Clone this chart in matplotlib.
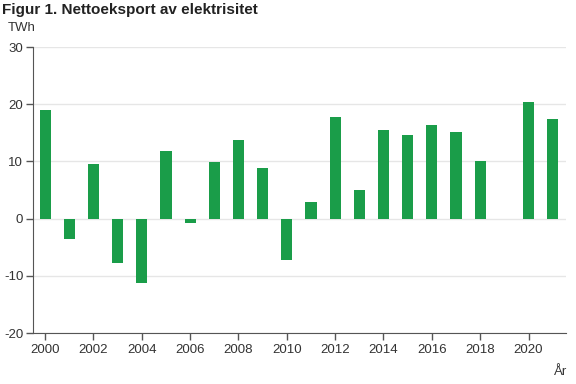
import matplotlib.pyplot as plt
import numpy as np

plt.rcParams['font.family'] = ['Liberation Sans', 'DejaVu Sans']
plt.rcParams['axes.unicode_minus'] = False

years = list(range(2000, 2022))
netto = [19.0, -3.5, 9.5, -7.7, -11.2, 11.9, -0.7, 9.9, 13.7, 8.9,
         -7.3, 2.9, 17.8, 5.0, 15.5, 14.6, 16.3, 15.1, 10.0, 0.0,
         20.3, 17.5]
tick_years = list(range(2000, 2021, 2))
y_ticks = [-20, -10, 0, 10, 20, 30]

fig = plt.figure(figsize=(5.76, 3.84), dpi=100)
ax = fig.add_axes([33/576, 1 - 333/384, (566 - 33)/576, (333 - 47)/384])

ax.bar(years, netto, width=0.46, color='#1a9d49', zorder=3)

ax.set_xlim(1999.5, 2021.55)
ax.set_ylim(-20, 30)
ax.set_yticks(y_ticks)
ax.set_xticks(tick_years)
ax.set_xticklabels([str(y) for y in tick_years])

ax.grid(axis='y', color='#e6e6e6', linewidth=1, zorder=0)
ax.spines['top'].set_visible(False)
ax.spines['right'].set_visible(False)
ax.spines['left'].set_color('#555555')
ax.spines['bottom'].set_color('#555555')
ax.tick_params(axis='both', colors='#555555', labelcolor='#333333',
               labelsize=9.5, length=5, width=1)
ax.tick_params(axis='y', pad=2)
ax.tick_params(axis='x', pad=3)

fig.text(0.003, 1 - 10/384, 'Figur 1. Nettoeksport av elektrisitet',
         fontsize=11, fontweight='bold', color='#222222', va='center', ha='left')
fig.text(8/576, 1 - 28/384, 'TWh', fontsize=9.5, color='#333333',
         va='center', ha='left')
fig.text(567/576, 1 - 372/384, 'År', fontsize=9.5, color='#333333',
         va='center', ha='right')

fig.savefig('out.png', dpi=100)
